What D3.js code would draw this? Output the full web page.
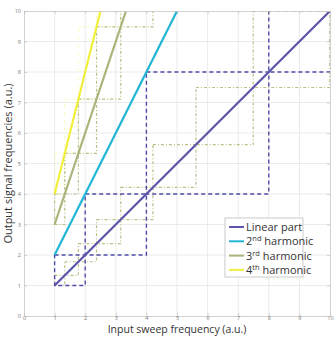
<!DOCTYPE html>
<html lang="en">
<head>
    <meta charset="UTF-8">
    <title>Harmonic sweep</title>
    <script src="https://cdn.jsdelivr.net/npm/d3@7"></script>
    <style>
        body { margin: 0; background: #fff; }
        svg { display: block; }
        .tick text { font-family: "Open Sans", sans-serif; font-size: 5.5px; fill: #777; }
        .axis-title { font-family: "Open Sans", sans-serif; font-size: 11px; fill: #333; }
        .legend text { font-family: "Open Sans", sans-serif; font-size: 11px; fill: #333; }
    </style>
</head>
<body>
<script>
    /******* DATA *******/
    const ticks = [0, 1, 2, 3, 4, 5, 6, 7, 8, 9, 10];
    const seriesNames = ["Linear part", "2nd harmonic", "3rd harmonic", "4th harmonic"];
    const seriesColors = ["#5a55aa", "#22b5d6", "#a9b47a", "#f2ef3c"];
    // straight lines: start and end of each series
    const lineX0 = [1, 1, 1, 1];
    const lineY0 = [1, 2, 3, 4];
    const lineX1 = [10, 5, 3.333, 2.5];
    const lineY1 = [10, 10, 10, 10];
    // octave steps round the linear part (dashed)
    const octaveEdges = [1, 2, 4, 8, 16];
    // 4/3 steps round the linear part (dash-dot)
    const thirdEdges = [1, 1.333, 1.778, 2.370, 3.160, 4.214, 5.619, 7.492, 9.989, 13.32];
    // 4/3 steps round the 3rd and 4th harmonic
    const harm3X = [1, 1.333, 1.778, 2.370, 3.160, 4.214];
    const harm3Y = [3, 4, 5.333, 7.111, 9.481, 12.64];
    const harm4X = [1, 1.333, 1.778, 2.370, 3.160];
    const harm4Y = [4, 5.333, 7.111, 9.481, 12.64];

    /******* LAYOUT *******/
    const width = 334, height = 337;
    const margins = { top: 11, bottom: 21, left: 24, right: 4 };

    const svg = d3.select("body").append("svg")
        .attr("width", width)
        .attr("height", height);

    const xScale = d3.scaleLinear().domain([0, 10]).range([margins.left, width - margins.right]);
    const yScale = d3.scaleLinear().domain([0, 10]).range([height - margins.bottom, margins.top]);

    svg.append("defs").append("clipPath").attr("id", "plot")
        .append("rect")
        .attr("x", xScale(0)).attr("y", yScale(10))
        .attr("width", xScale(10) - xScale(0))
        .attr("height", yScale(0) - yScale(10));

    // Grid
    const grid = svg.append("g");
    grid.selectAll("line.v").data(ticks.slice(1, -1)).enter().append("line")
        .attr("x1", d => xScale(d)).attr("x2", d => xScale(d))
        .attr("y1", yScale(0)).attr("y2", yScale(10))
        .attr("stroke", "#e6e6e6").attr("stroke-width", 0.8);
    grid.selectAll("line.h").data(ticks.slice(1, -1)).enter().append("line")
        .attr("y1", d => yScale(d)).attr("y2", d => yScale(d))
        .attr("x1", xScale(0)).attr("x2", xScale(10))
        .attr("stroke", "#e6e6e6").attr("stroke-width", 0.8);

    /******* STEP BOXES *******/
    const plot = svg.append("g").attr("clip-path", "url(#plot)");

    function boxes(xs, ys, color, dash, sw, op) {
        const idx = d3.range(xs.length - 1);
        plot.append("g").selectAll("rect").data(idx).enter().append("rect")
            .attr("x", i => xScale(xs[i]))
            .attr("y", i => yScale(ys[i + 1]))
            .attr("width", i => xScale(xs[i + 1]) - xScale(xs[i]))
            .attr("height", i => yScale(ys[i]) - yScale(ys[i + 1]))
            .attr("fill", "none")
            .attr("stroke", color)
            .attr("stroke-width", sw)
            .attr("stroke-dasharray", dash)
            .attr("opacity", op);
    }

    boxes(harm4X, harm4Y, "#f4f2a0", "3,2,1,2", 1, 0.7);
    boxes(thirdEdges, thirdEdges, "#b9c088", "3,2,1,2", 1.2, 1);
    boxes(harm3X, harm3Y, "#b9c088", "3,2,1,2", 1.2, 1);
    boxes(octaveEdges, octaveEdges, "#4f4ca8", "4,3", 1.4, 1);

    /******* LINES *******/
    plot.append("g").selectAll("line").data(seriesNames).enter().append("line")
        .attr("x1", (d, i) => xScale(lineX0[i]))
        .attr("y1", (d, i) => yScale(lineY0[i]))
        .attr("x2", (d, i) => xScale(lineX1[i]))
        .attr("y2", (d, i) => yScale(lineY1[i]))
        .attr("stroke", (d, i) => seriesColors[i])
        .attr("stroke-width", 2.2);

    /******* AXES *******/
    const xAxis = d3.axisBottom(xScale).tickValues(ticks).tickSize(-3).tickPadding(0.5);
    const yAxis = d3.axisLeft(yScale).tickValues(ticks).tickSize(-3).tickPadding(3);
    const xTop = d3.axisTop(xScale).tickValues(ticks).tickSize(-3).tickFormat("");
    const yRight = d3.axisRight(yScale).tickValues(ticks).tickSize(-3).tickFormat("");

    [
        [xAxis, `translate(0,${yScale(0)})`],
        [yAxis, `translate(${xScale(0)},0)`],
        [xTop, `translate(0,${yScale(10)})`],
        [yRight, `translate(${xScale(10)},0)`]
    ].forEach(([ax, tr]) => {
        const g = svg.append("g").attr("transform", tr).call(ax);
        g.select(".domain").attr("stroke", "#c8c8c8").attr("stroke-width", 0.8);
        g.selectAll(".tick line").attr("stroke", "#bbb").attr("stroke-width", 0.6);
    });

    // Axis titles
    svg.append("text").attr("class", "axis-title")
        .attr("x", (xScale(0) + xScale(10)) / 2)
        .attr("y", 333.3)
        .attr("text-anchor", "middle")
        .style("font-size", "10.5px")
        .text("Input sweep frequency (a.u.)");
    svg.append("text").attr("class", "axis-title")
        .attr("transform", `translate(12,${(yScale(0) + yScale(10)) / 2}) rotate(-90)`)
        .attr("text-anchor", "middle")
        .text("Output signal frequencies (a.u.)");

    /******* LEGEND *******/
    const legend = svg.append("g").attr("class", "legend").attr("transform", "translate(225,218)");
    legend.append("rect")
        .attr("width", 78).attr("height", 59)
        .attr("fill", "#fff").attr("stroke", "#bdbdbd").attr("stroke-width", 0.8);
    const sups = ["", "nd", "rd", "th"];
    seriesNames.forEach((name, i) => {
        const y = 9 + i * 14.3;
        legend.append("line")
            .attr("x1", 4).attr("x2", 19).attr("y1", y).attr("y2", y)
            .attr("stroke", seriesColors[i]).attr("stroke-width", 2);
        const t = legend.append("text").attr("x", 21).attr("y", y + 4);
        if (i === 0) {
            t.text(name);
        } else {
            t.append("tspan").text(String(i + 1));
            t.append("tspan").attr("dy", -4).style("font-size", "7.5px").text(sups[i]);
            t.append("tspan").attr("dy", 4).text(" harmonic");
        }
    });
</script>
</body>
</html>
